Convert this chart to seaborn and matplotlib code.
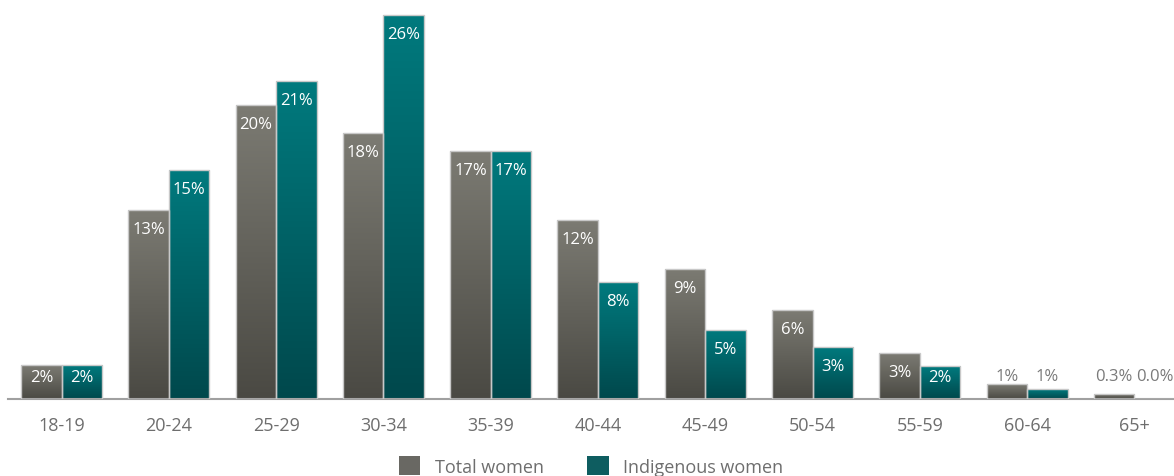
import numpy as np
import pandas as pd
import seaborn as sns
import matplotlib.pyplot as plt
from matplotlib.colors import LinearSegmentedColormap

age_groups = ['18-19', '20-24', '25-29', '30-34', '35-39', '40-44',
              '45-49', '50-54', '55-59', '60-64', '65+']
total_women = [2.3, 12.8, 19.9, 18.0, 16.8, 12.1, 8.8, 6.0, 3.1, 1.0, 0.34]
indigenous_women = [2.3, 15.5, 21.5, 26.0, 16.8, 7.9, 4.7, 3.5, 2.2, 0.65, 0.0]
total_labels = ['2%', '13%', '20%', '18%', '17%', '12%', '9%', '6%', '3%', '1%', '0.3%']
indigenous_labels = ['2%', '15%', '21%', '26%', '17%', '8%', '5%', '3%', '2%', '1%', '0.0%']
series = ['Total women', 'Indigenous women']

df = pd.DataFrame({
    'age': age_groups * 2,
    'pct': total_women + indigenous_women,
    'group': [series[0]] * len(age_groups) + [series[1]] * len(age_groups),
})

# gradient ends (top, bottom) per series
grads = {
    series[0]: ('#7c7b73', '#4a4943'),
    series[1]: ('#007a7e', '#00484c'),
}
mids = {series[0]: '#6a6962', series[1]: '#006a6e'}

sns.set_theme(style='white')
plt.rcParams['font.family'] = ['Open Sans', 'DejaVu Sans']

fig = plt.figure(figsize=(11.74, 4.77), dpi=100)
ax = fig.add_axes([8 / 1174, 77 / 477, 1 - 8 / 1174, 400 / 477])

sns.barplot(data=df, x='age', y='pct', hue='group', palette=mids,
            width=0.755, gap=0, edgecolor='#c8c8c8', linewidth=1,
            legend=True, ax=ax, zorder=3)

px_per_pct = 14.78
ymax = 400 / px_per_pct

# paint a vertical gradient on every bar, clipped to the bar
n = len(age_groups)
bars = ax.patches[:2 * n]
for i, p in enumerate(bars):
    grp = series[0] if i < n else series[1]
    h = p.get_height()
    if h <= 0:
        continue
    cmap = LinearSegmentedColormap.from_list('g', [grads[grp][1], grads[grp][0]])
    grad = np.linspace(0, 1, 256).reshape(-1, 1)
    x0 = p.get_x()
    w = p.get_width()
    im = ax.imshow(grad, cmap=cmap, origin='lower', aspect='auto',
                   extent=[x0, x0 + w, 0, h], zorder=2.5)
    im.set_clip_path(p)
    p.set_facecolor('none')

# value labels
offset = 19 / px_per_pct
for i in range(n):
    for j, (vals, labs) in enumerate([(total_women, total_labels),
                                      (indigenous_women, indigenous_labels)]):
        x = i + (j - 0.5) * 0.755 / 2
        v = vals[i]
        if v >= 2:
            y = max(v - offset, 1.5)
            ax.text(x, y, labs[i], ha='center', va='center', color='white',
                    fontsize=12, zorder=5)
        else:
            ax.text(x, 1.55, labs[i], ha='center', va='center', color='#7a7a7a',
                    fontsize=12, zorder=5)

ax.set_xlim(-0.5, 10.37)
ax.set_ylim(0, ymax)
ax.set_xlabel('')
ax.set_ylabel('')
ax.set_yticks([])
ax.tick_params(axis='x', length=0, pad=12, labelsize=13, labelcolor='#6e6e6e')
sns.despine(ax=ax, left=True)
ax.spines['bottom'].set_color('#a0a0a0')
ax.spines['bottom'].set_linewidth(1.5)

handles, labels = ax.get_legend_handles_labels()
ax.get_legend().remove()
for h in handles:
    h.set_edgecolor('none')
fig.legend(handles, labels, loc='center', bbox_to_anchor=(591 / 1174, 10 / 477),
           ncol=2, frameon=False, fontsize=13, labelcolor='#6e6e6e',
           handlelength=1.2, handleheight=1.2, handletextpad=0.8, columnspacing=2.4)

fig.savefig('out.png', dpi=100)
